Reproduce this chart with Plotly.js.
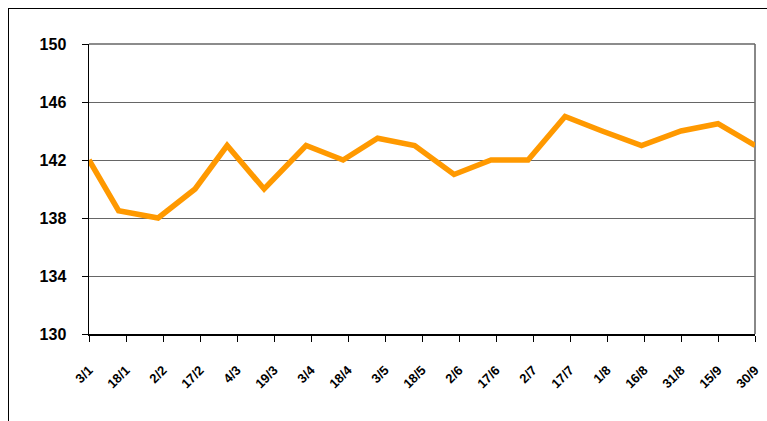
<!DOCTYPE html>
<html>
<head>
<meta charset="utf-8">
<script src="https://cdn.plot.ly/plotly-3.0.1.min.js"></script>
<style>
  html, body { margin: 0; padding: 0; background: #fff; }
  #wrap { position: relative; width: 767px; height: 421px; overflow: hidden; }
  #chart { width: 767px; height: 421px; }
  #frame { position: absolute; left: 8px; top: 8px; width: 820px; height: 480px;
           border: 1.5px solid #000; pointer-events: none; }
</style>
</head>
<body>
<div id="wrap">
  <div id="chart"></div>
  <div id="frame"></div>
</div>
<script>
// Observation dates (semi-monthly) and values
const dates = ['2007-01-03','2007-01-15','2007-01-31','2007-02-15','2007-02-28','2007-03-15',
               '2007-04-01','2007-04-16','2007-04-30','2007-05-15','2007-05-31','2007-06-15',
               '2007-06-30','2007-07-15','2007-07-30','2007-08-15','2007-08-31','2007-09-15','2007-09-30'];
const values = [142, 138.5, 138, 140, 143, 140,
                143, 142, 143.5, 143, 141, 142,
                142, 145, 144, 143, 144, 144.5, 143];
const yTicks = [130, 134, 138, 142, 146, 150];

const trace = {
  x: dates, y: values, type: 'scatter', mode: 'lines',
  line: { color: '#FF9900', width: 5.5 },
  hoverinfo: 'skip'
};

const layout = {
  width: 767, height: 421,
  margin: { l: 89, r: 12, t: 44, b: 87 },
  paper_bgcolor: '#ffffff', plot_bgcolor: '#ffffff',
  showlegend: false,
  xaxis: {
    type: 'date',
    range: ['2007-01-03', '2007-09-30'],
    tick0: '2007-01-03', dtick: 15 * 86400000,
    tickformat: '%-d/%-m',
    tickangle: -45,
    ticks: 'outside', ticklen: 6, tickcolor: '#000', tickwidth: 1,
    ticklabelstandoff: 16,
    showline: true, linecolor: '#000', linewidth: 1.5,
    showgrid: false, zeroline: false,
    tickfont: { family: 'Liberation Sans, Arial, sans-serif', size: 13, color: '#000', weight: 'bold' },
    fixedrange: true
  },
  yaxis: {
    range: [130, 150],
    tickvals: yTicks,
    ticktext: yTicks.map(String),
    ticks: 'outside', ticklen: 6, tickcolor: '#000', tickwidth: 1,
    ticklabelstandoff: 12,
    showline: true, linecolor: '#000', linewidth: 1.5,
    showgrid: true, gridcolor: '#666666', gridwidth: 1,
    zeroline: false,
    tickfont: { family: 'Liberation Sans, Arial, sans-serif', size: 16, color: '#000', weight: 'bold' },
    fixedrange: true
  },
  shapes: [
    { type: 'line', xref: 'paper', yref: 'paper', x0: 1, x1: 1, y0: 0, y1: 1,
      line: { color: '#888888', width: 2 }, layer: 'below' },
    { type: 'line', xref: 'paper', yref: 'paper', x0: 0, x1: 1, y0: 1, y1: 1,
      line: { color: '#666666', width: 1.5 }, layer: 'below' }
  ]
};

Plotly.newPlot('chart', [trace], layout, { staticPlot: true, displayModeBar: false });
</script>
</body>
</html>
